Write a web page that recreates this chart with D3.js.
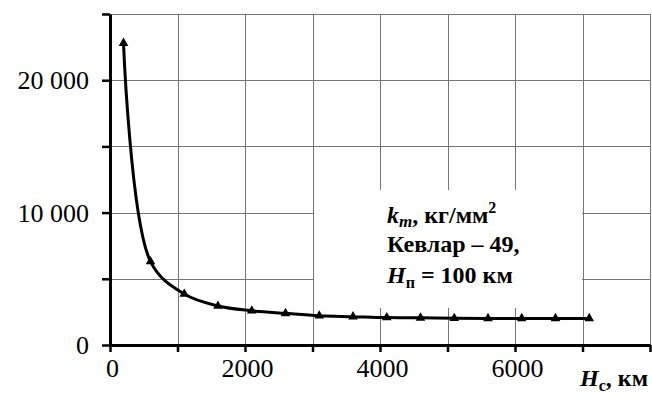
<!DOCTYPE html>
<html>
<head>
<meta charset="utf-8">
<script src="https://cdn.jsdelivr.net/npm/d3@7/dist/d3.min.js"></script>
</head>
<body style="margin:0">
<svg id="chart" width="652" height="400" style="display:block;background:#fff"></svg>
<script>
// H_c, km
const altitudes = [200, 600, 1100, 1600, 2100, 2600, 3100, 3600, 4100, 4600, 5100, 5600, 6100, 6600, 7100];
// k_m, kg/mm^2
const kmValues = [22800, 6300, 3850, 2950, 2590, 2390, 2210, 2140, 2070, 2050, 2020, 2010, 2010, 2010, 2010];

const xTicks = [0, 1000, 2000, 3000, 4000, 5000, 6000, 7000, 8000];
const xLabels = ['0', '', '2000', '', '4000', '', '6000', '', ''];
const yTicks = [0, 5000, 10000, 15000, 20000, 25000];
const yLabels = ['0', '', '10 000', '', '20 000', ''];

const fontName = '"Liberation Serif"';
const svg = d3.select('#chart');
const plotLeft = 110, plotRight = 650, plotTop = 14, plotBottom = 345;

const x = d3.scaleLinear().domain([0, 8000]).range([plotLeft, plotRight]);
const y = d3.scaleLinear().domain([0, 25000]).range([plotBottom, plotTop]);

// grid
const grid = svg.append('g').attr('stroke', '#777').attr('stroke-width', 1);
grid.selectAll('line.v')
    .data(xTicks.slice(1))
    .join('line')
    .attr('class', 'v')
    .attr('x1', d => Math.round(x(d)) + 0.5)
    .attr('x2', d => Math.round(x(d)) + 0.5)
    .attr('y1', plotTop)
    .attr('y2', plotBottom);
grid.selectAll('line.h')
    .data(yTicks.slice(1))
    .join('line')
    .attr('class', 'h')
    .attr('x1', plotLeft)
    .attr('x2', plotRight)
    .attr('y1', d => Math.round(y(d)) + 0.5)
    .attr('y2', d => Math.round(y(d)) + 0.5);

// white label box hides part of the grid
svg.append('rect')
    .attr('x', 314).attr('y', 190)
    .attr('width', 268).attr('height', 118)
    .attr('fill', '#fff');

// axes
const xAxis = svg.append('g')
    .attr('transform', `translate(0,${plotBottom})`)
    .call(d3.axisBottom(x).tickValues(xTicks).tickSize(7).tickSizeOuter(0)
        .tickFormat((d, i) => xLabels[i]));
const yAxis = svg.append('g')
    .attr('transform', `translate(${plotLeft},0)`)
    .call(d3.axisLeft(y).tickValues(yTicks).tickSize(8).tickSizeOuter(0)
        .tickFormat((d, i) => yLabels[i]));

[xAxis, yAxis].forEach(a => {
    a.attr('font-family', 'Liberation Serif').attr('font-size', 26);
    a.select('.domain').attr('stroke', '#000').attr('stroke-width', 3);
    a.selectAll('.tick line').attr('stroke', '#000').attr('stroke-width', 2.5);
    a.selectAll('.tick text')
        .attr('fill', '#000')
        .attr('font-family', 'Liberation Serif')
        .style('font-family', fontName);
});
xAxis.selectAll('.tick text').attr('y', 32).attr('dy', 0).attr('dx', 2);
yAxis.selectAll('.tick text').attr('x', -21).attr('dy', '0.33em');

// x axis title in place of the last label
const xt = svg.append('text')
    .attr('x', 648).attr('y', 386)
    .attr('text-anchor', 'end')
    .attr('font-size', 24)
    .attr('font-weight', 'bold')
    .attr('font-family', 'Liberation Serif')
    .style('font-family', fontName);
xt.append('tspan').attr('font-style', 'italic').text('H');
xt.append('tspan').attr('font-size', 16).attr('dy', 5).text('с');
xt.append('tspan').attr('dy', -5).text(', км');

// curve
const pts = altitudes.map((a, i) => [a, kmValues[i]]);
const line = d3.line()
    .x(d => x(d[0]))
    .y(d => y(d[1]))
    .curve(d3.curveCatmullRom.alpha(0.5));

svg.append('path')
    .datum(pts)
    .attr('d', line)
    .attr('fill', 'none')
    .attr('stroke', '#000')
    .attr('stroke-width', 3);

svg.append('g')
    .selectAll('path')
    .data(pts)
    .join('path')
    .attr('transform', d => `translate(${x(d[0])},${y(d[1])})`)
    .attr('d', d3.symbol(d3.symbolTriangle, 40))
    .attr('fill', '#000');

// annotation
const noteText = (yPos) => svg.append('text')
    .attr('x', 387).attr('y', yPos)
    .attr('fill', '#000')
    .attr('font-size', 24)
    .attr('font-weight', 'bold')
    .attr('font-family', 'Liberation Serif')
    .style('font-family', fontName);

const l1 = noteText(223);
l1.append('tspan').attr('font-style', 'italic').text('k');
l1.append('tspan').attr('font-style', 'italic').attr('font-size', 17).attr('dy', 4).text('m');
l1.append('tspan').attr('dy', -4).text(',  кг/мм');
l1.append('tspan').attr('font-size', 16).attr('dy', -10).text('2');
noteText(252).text('Кевлар – 49,');
const l3 = noteText(283);
l3.append('tspan').attr('font-style', 'italic').text('H');
l3.append('tspan').attr('font-size', 16).attr('dy', 5).text('п');
l3.append('tspan').attr('dy', -5).text(' = 100 км');
</script>
</body>
</html>
